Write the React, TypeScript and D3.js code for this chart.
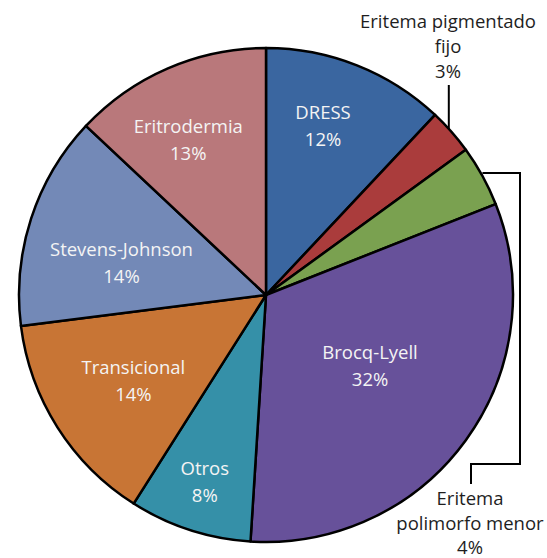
import * as d3 from 'd3';

const categories = ['DRESS', 'Eritema pigmentado fijo', 'Eritema polimorfo menor', 'Brocq-Lyell', 'Otros', 'Transicional', 'Stevens-Johnson', 'Eritrodermia'];
const values = [12, 3, 4, 32, 8, 14, 14, 13];
const colors = ['#3A66A0', '#AA3C3C', '#7AA150', '#67519A', '#3590A8', '#C87535', '#7389B7', '#B9787B'];
// inner label lines (empty = labelled outside)
const innerLabels = [['DRESS', '12%'], [], [], ['Brocq-Lyell', '32%'], ['Otros', '8%'], ['Transicional', '14%'], ['Stevens-Johnson', '14%'], ['Eritrodermia', '13%']];
// label placement: distance from centre (px) and angle (deg, clockwise from top)
const labelDist = [178, 0, 0, 126, 197, 158, 148, 173];
const labelAngle = [18.7, 0, 0, 124.3, 198.1, 237.1, 282.4, 333.3];

export default function App() {
  const width = 547;
  const height = 558;
  const cx = 266;
  const cy = 295;
  const r = 247;

  const pie = d3.pie<number>().sort(null).value(d => d);
  const arcs = pie(values);
  const arc = d3.arc<d3.PieArcDatum<number>>().innerRadius(0).outerRadius(r);

  const font = '"Open Sans", sans-serif';
  const fs = 18.5;

  // callout for "Eritema pigmentado fijo"
  const a1 = arcs[1];
  const m1 = (a1.startAngle + a1.endAngle) / 2 - 0.015;
  const p1x = cx + r * Math.sin(m1);
  const p1y = cy - r * Math.cos(m1);

  // callout for "Eritema polimorfo menor"
  const a2 = arcs[2];
  const m2 = (a2.startAngle + a2.endAngle) / 2;
  const p2x = cx + r * Math.sin(m2);
  const p2y = cy - r * Math.cos(m2);

  return (
    <svg width={width} height={height} style={{ position: 'absolute', left: 0, top: 0 }}>
      <rect width={width} height={height} fill="#fff" />
      <g transform={`translate(${cx},${cy})`}>
        {arcs.map((a, i) => (
          <path key={i} d={arc(a) || ''} fill={colors[i]} stroke="#000" strokeWidth={2.5} strokeLinejoin="round" />
        ))}
        {arcs.map((a, i) => {
          const lines = innerLabels[i];
          if (!lines.length) return null;
          const ang = (labelAngle[i] * Math.PI) / 180;
          const x = labelDist[i] * Math.sin(ang);
          const y = -labelDist[i] * Math.cos(ang);
          return (
            <text key={'t' + i} textAnchor="middle" fill="#F4F4F4" fontFamily={font} fontSize={fs}>
              <tspan x={x} y={y - 7}>{lines[0]}</tspan>
              <tspan x={x} y={y + 20}>{lines[1]}</tspan>
            </text>
          );
        })}
      </g>
      <path d={`M${p1x},${p1y}V85`} fill="none" stroke="#000" strokeWidth={2} />
      <path d={`M${p2x},${p2y - 3}H520V464H471V484`} fill="none" stroke="#000" strokeWidth={2} />
      <text textAnchor="middle" fill="#1E1E1E" fontFamily={font} fontSize={fs}>
        <tspan x={448} y={28}>Eritema pigmentado</tspan>
        <tspan x={448} y={53}>fijo</tspan>
        <tspan x={448} y={78}>3%</tspan>
      </text>
      <text textAnchor="middle" fill="#1E1E1E" fontFamily={font} fontSize={fs}>
        <tspan x={470} y={505}>Eritema</tspan>
        <tspan x={470} y={530}>polimorfo menor</tspan>
        <tspan x={470} y={554}>4%</tspan>
      </text>
    </svg>
  );
}
